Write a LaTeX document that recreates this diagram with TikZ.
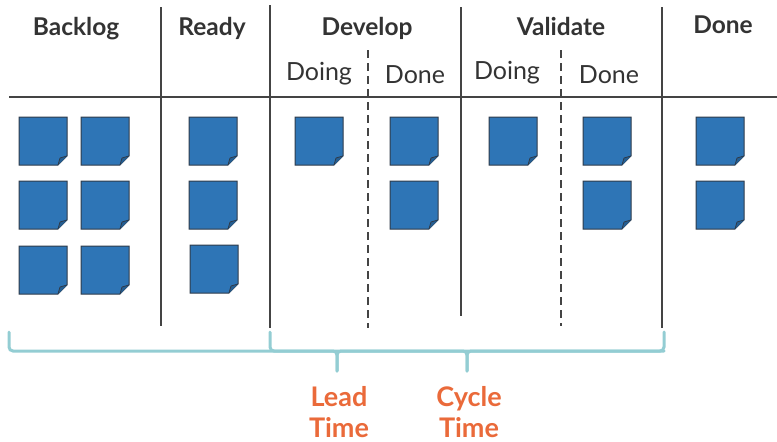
\documentclass[tikz,border=0pt]{standalone}
\usepackage{fontspec}
\setmainfont{Lato}
\definecolor{ink}{HTML}{333333}
\definecolor{rulecol}{HTML}{444444}
\definecolor{noteblue}{HTML}{2E75B6}
\definecolor{noteedge}{HTML}{2F3B4A}
\definecolor{notefold}{HTML}{255E92}
\definecolor{bracecol}{HTML}{93CDD3}
\definecolor{accent}{HTML}{EA6A3A}
\begin{document}
\begin{tikzpicture}[x=1pt,y=-1pt,
  head/.style={font=\fontsize{24.5}{28}\selectfont\bfseries, text=ink, anchor=base, inner sep=0},
  sub/.style={font=\fontsize{25}{28}\selectfont, text=ink, anchor=base, inner sep=0},
  lane/.style={draw=rulecol, line width=1.3},
  sublane/.style={lane, dash pattern=on 8pt off 5pt},
  bracket/.style={draw=bracecol, line width=3, rounded corners=4, line cap=round},
  metric/.style={font=\fontsize{27}{32}\selectfont\bfseries, text=accent, anchor=base, inner sep=0},
  sticky/.pic={
    \draw[draw=noteedge, fill=noteblue, line width=1]
      (0,0) -- (48,0) -- (48,39) -- (39,48) -- (0,48) -- cycle;
    \draw[draw=noteedge, fill=notefold, line width=0.8, line join=round]
      (39,48) -- (41,41) -- (48,39);
    \coordinate (-c) at (24,24);
  }]
\useasboundingbox (0,0) rectangle (777,442);

% column headers
\node[head] (hBacklog)  at (76,35)  {Backlog};
\node[head] (hReady)    at (212,35) {Ready};
\node[head] (hDevelop)  at (367,35) {Develop};
\node[head] (hValidate) at (561,35) {Validate};
\node[head] (hDone)     at (723,33) {Done};

% sub-column headers
\node[sub] (sDevDoing) at (319,80) {Doing};
\node[sub] (sDevDone)  at (415,83) {Done};
\node[sub] (sValDoing) at (507,79) {Doing};
\node[sub] (sValDone)  at (609,83) {Done};

% board lines
\draw[lane] (9,97) -- (777,97);
\draw[lane] (161,7) -- (161,326);
\draw[lane] (270,5) -- (270,328);
\draw[lane] (461,7) -- (461,316);
\draw[lane] (662,7) -- (662,328);
\draw[sublane] (368,50) -- (368,328);
\draw[sublane] (561,50) -- (561,326);

% cards: backlog
\pic (b1) at (19,117) {sticky};
\pic (b2) at (81,117) {sticky};
\pic (b3) at (19,181) {sticky};
\pic (b4) at (81,181) {sticky};
\pic (b5) at (19,246) {sticky};
\pic (b6) at (81,246) {sticky};
% ready
\pic (r1) at (189,117) {sticky};
\pic (r2) at (189,181) {sticky};
\pic (r3) at (190,245) {sticky};
% develop
\pic (d1) at (295,117) {sticky};
\pic (d2) at (390,117) {sticky};
\pic (d3) at (390,181) {sticky};
% validate
\pic (v1) at (489,117) {sticky};
\pic (v2) at (583,117) {sticky};
\pic (v3) at (583,181) {sticky};
% done
\pic (f1) at (696,117) {sticky};
\pic (f2) at (696,181) {sticky};

% brackets
\coordinate (leadL)  at (9,332);
\coordinate (cycL)   at (270,332);
\coordinate (allR)   at (664,332);
\coordinate (leadTip) at (337,371);
\coordinate (cycTip)  at (467,371);
\draw[bracket] (leadL) -- (9,351) -- (337,351) -- (leadTip);
\draw[bracket] (leadTip) -- (337,351) -- (664,351) -- (allR);
\draw[bracket] (cycL) -- (270,351) -- (467,351) -- (cycTip);
\draw[bracket] (cycTip) -- (467,351) -- (664,351);

% metric labels
\node[metric] (leadA)  at (339,406) {Lead};
\node[metric] (leadB)  at (339,437) {Time};
\node[metric] (cycleA) at (469,406) {Cycle};
\node[metric] (cycleB) at (469,437) {Time};
\end{tikzpicture}
\end{document}
